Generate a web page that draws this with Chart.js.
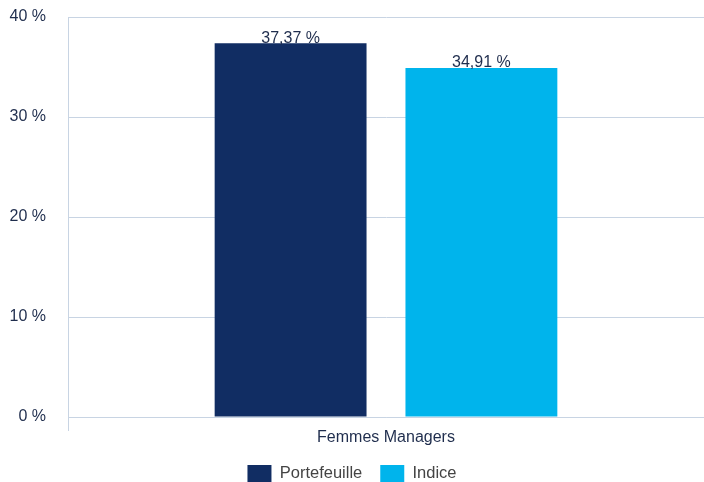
<!DOCTYPE html>
<html>
<head>
<meta charset="utf-8">
<script src="https://cdn.jsdelivr.net/npm/chart.js@4.4.1/dist/chart.umd.min.js"></script>
<style>
  html, body { margin: 0; padding: 0; background: #fff; }
  #wrap { width: 704px; height: 482px; }
</style>
</head>
<body>
<div id="wrap"><canvas id="chart"></canvas></div>
<script>
// chart values
const categories = ['Femmes Managers'];
const seriesNames = ['Portefeuille', 'Indice'];
const portefeuille = [37.37];
const indice = [34.91];
const seriesColors = ['#112d63', '#00b4ec'];

const FONT = '"Liberation Sans", Arial, sans-serif';

// value labels above bars
const barLabels = {
  id: 'barLabels',
  afterDatasetsDraw(chart) {
    const ctx = chart.ctx;
    ctx.save();
    ctx.font = '16px ' + FONT;
    ctx.fillStyle = '#1f2d4d';
    ctx.textAlign = 'center';
    ctx.textBaseline = 'bottom';
    chart.data.datasets.forEach((ds, i) => {
      chart.getDatasetMeta(i).data.forEach((bar, j) => {
        const txt = ds.data[j].toFixed(2).replace('.', ',') + ' %';
        ctx.fillText(txt, bar.x, bar.y + 3);
      });
    });
    ctx.restore();
  }
};

document.addEventListener('DOMContentLoaded', function () {
  const ctx = document.getElementById('chart').getContext('2d');
  new Chart(ctx, {
    type: 'bar',
    data: {
      labels: categories,
      datasets: [
        { label: seriesNames[0], data: portefeuille, backgroundColor: seriesColors[0] },
        { label: seriesNames[1], data: indice, backgroundColor: seriesColors[1] }
      ]
    },
    options: {
      responsive: true,
      maintainAspectRatio: false,
      animation: false,
      categoryPercentage: 0.6,
      barPercentage: 0.796,
      layout: { padding: { top: 17, right: 0, left: 0, bottom: -10 } },
      plugins: {
        tooltip: { enabled: false },
        legend: {
          position: 'bottom',
          labels: {
            boxWidth: 24,
            boxHeight: 17,
            padding: 18,
            color: '#444',
            font: { family: FONT, size: 16.5 }
          }
        }
      },
      scales: {
        x: {
          afterFit(scale) { scale.height = 30; },
          grid: { drawOnChartArea: false, tickLength: 14, color: '#c8d4e3' },
          border: { color: '#c8d4e3' },
          ticks: {
            color: '#1f2d4d',
            padding: -3,
            font: { family: FONT, size: 16 }
          }
        },
        y: {
          min: 0,
          max: 40,
          afterFit(scale) {
            scale.width = 68;
            scale.paddingTop = 0;
            scale.paddingBottom = 0;
          },
          grid: { drawTicks: false, color: '#c8d4e3' },
          border: { color: '#c8d4e3' },
          ticks: {
            stepSize: 10,
            padding: 22,
            color: '#1f2d4d',
            font: { family: FONT, size: 16 },
            callback: v => v + ' %'
          }
        }
      }
    },
    plugins: [barLabels]
  });
});
</script>
</body>
</html>
